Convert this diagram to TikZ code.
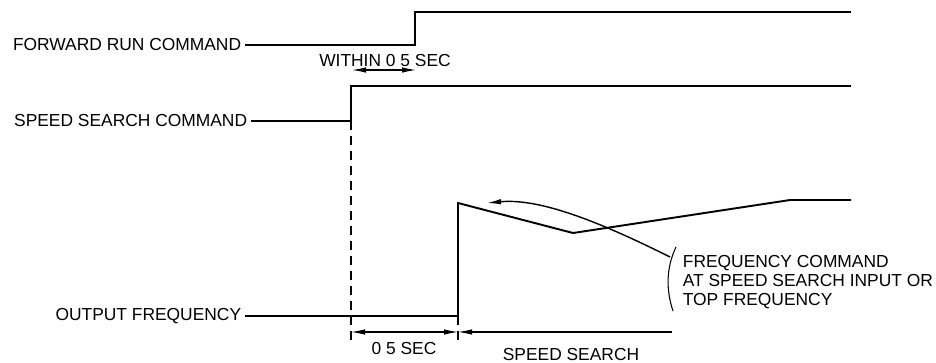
\documentclass[tikz,border=0pt]{standalone}
\usepackage{fontspec}
\setmainfont{Liberation Sans}
\usetikzlibrary{arrows.meta}
\begin{document}
\begin{tikzpicture}[x=0.2mm, y=-0.2mm,
    sig/.style={line width=1.1pt},
    dimline/.style={line width=0.6pt},
    tip/.tip={Latex[length=2.8mm,width=1.1mm]},
    lbl/.style={font=\fontsize{9.9}{11}\selectfont, inner sep=2pt}]
    \useasboundingbox (0,0) rectangle (936,362);

    % Vorwaertslauf-Befehl
    \node[lbl, anchor=east] (fwd) at (245,45) {FORWARD RUN COMMAND};
    \draw[sig] (fwd.east) -- (415,45) -- (415,12) -- (851,12);

    % Drehzahlsuche-Befehl
    \node[lbl, anchor=east] (ssc) at (251,121) {SPEED SEARCH COMMAND};
    \coordinate (ssup) at (351,121);
    \draw[sig] (ssc.east) -- (ssup) -- (351,86) -- (851,86);

    % Ausgangsfrequenz
    \node[lbl, anchor=east] (outf) at (245,316) {OUTPUT FREQUENCY};
    \coordinate (outup) at (458,316);
    \coordinate (peak) at (458,203);
    \coordinate (low) at (573,233);
    \draw[sig] (outf.east) -- (outup) -- (peak) -- (low) -- (790,200) -- (851,200);

    % Hilfslinien
    \coordinate (d1) at (351,343);
    \coordinate (d2) at (458,345);
    \draw[dimline, dash pattern=on 1.8mm off 1.2mm] (ssup) -- (d1);
    \draw[dimline, dash pattern=on 1.8mm off 1.2mm] (outup) -- (d2);

    % Zeitangaben
    \coordinate (w1) at (352,70);
    \coordinate (w2) at (416,70);
    \draw[dimline, tip-tip] (w1) -- (w2);
    \node[lbl] (within) at (385,61) {WITHIN 0 5 SEC};

    \coordinate (t1) at (351,332);
    \coordinate (t2) at (458,332);
    \coordinate (t3) at (672,332);
    \draw[dimline, tip-tip] (t1) -- (t2);
    \draw[dimline, tip-] (t2) -- (t3);
    \node[lbl] (halfsec) at (404,348) {0 5 SEC};
    \node[lbl] (search) at (571,354) {SPEED SEARCH};

    % Frequenzbefehl
    \node[lbl, anchor=west, align=left] (fcmd) at (679,282) {FREQUENCY COMMAND\\AT SPEED SEARCH INPUT OR\\TOP FREQUENCY};
    \draw[dimline] (676,247) .. controls (666,268) and (666,290) .. (673,311);
    \coordinate (cstart) at (670,257);
    \coordinate (cend) at (487,203);
    \draw[line width=0.8pt, -tip] (cstart) .. controls (600,222) and (540,198) .. (cend);
\end{tikzpicture}
\end{document}
